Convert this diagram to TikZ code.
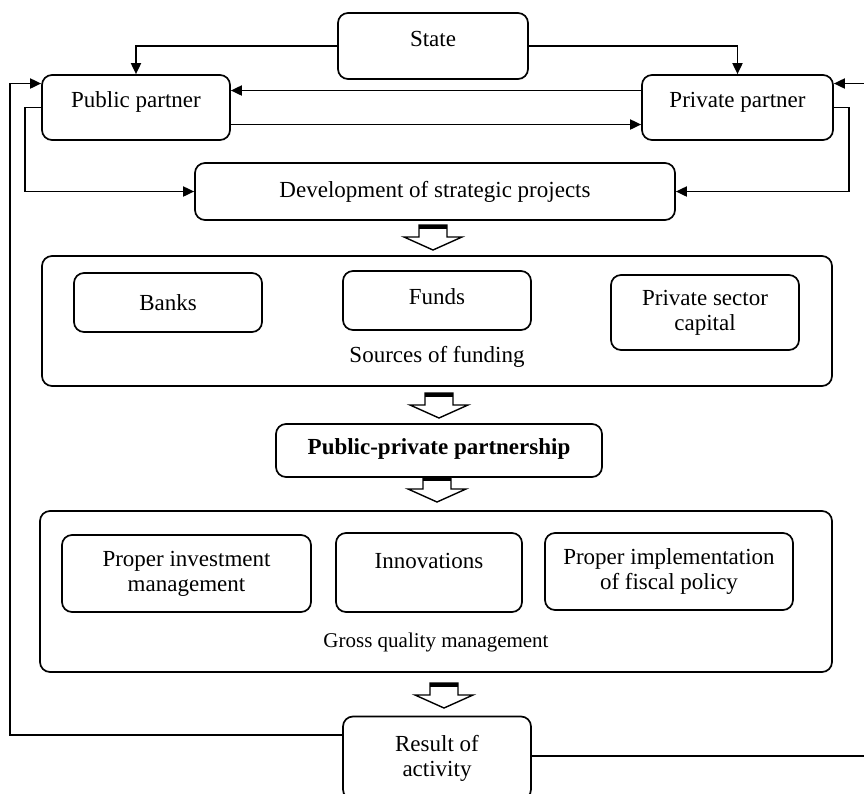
\documentclass[tikz,border=0pt]{standalone}
\usepackage{fontspec}
\setmainfont{Liberation Serif}
\usetikzlibrary{arrows.meta,calc}

\tikzset{
  box/.style={draw, rounded corners=5pt, line width=0.85pt, align=center, inner sep=0pt},
  lift/.style={text height=8pt, text depth=#1},
  arr/.style={line width=0.9pt, -{Triangle[length=5.5pt,width=5pt]}},
}

\begin{document}
\begin{tikzpicture}[x=0.5pt,y=-0.5pt,font=\fontsize{11.5}{12.5}\selectfont]
\useasboundingbox (0,0) rectangle (864,794);

\node[box,lift=7.5pt,minimum width=95pt,minimum height=33pt] (state) at (433,46) {State};
\node[box,lift=8pt,minimum width=94pt,minimum height=32.5pt] (pub) at (136,107.5) {Public partner};
\node[box,lift=8pt,minimum width=95.5pt,minimum height=32.5pt] (priv) at (737.5,107.5) {Private partner};
\node[box,minimum width=240pt,minimum height=28.5pt] (dev) at (435,191.5) {Development of strategic projects};

% sources of funding
\node[box,minimum width=395pt,minimum height=65pt] (src) at (437,321) {};
\node[box,minimum width=94pt,minimum height=29.5pt] (banks) at (168,302.5) {Banks};
\node[box,lift=4pt,minimum width=94pt,minimum height=29.5pt] (funds) at (437,300.5) {Funds};
\node[box,minimum width=94pt,minimum height=37.5pt] (capital) at (705,312.5) {Private sector\\capital};
\node (srccap) at (437,357) {Sources of funding};

\node[box,lift=4pt,minimum width=163pt,minimum height=26.5pt,font=\fontsize{11.5}{12.5}\selectfont\bfseries] (ppp) at (439,450.5) {Public-private partnership};

% gross quality management
\node[box,minimum width=396pt,minimum height=80.5pt] (gqm) at (436,591.5) {};
\node[box,minimum width=124.5pt,minimum height=38.5pt] (invest) at (186.5,573.5) {Proper investment\\management};
\node[box,lift=12pt,minimum width=93pt,minimum height=39.5pt] (innov) at (429,572.5) {Innovations};
\node[box,minimum width=124pt,minimum height=38.5pt] (fiscal) at (669,571.5) {Proper implementation\\of fiscal policy};
\node[font=\fontsize{10.5}{12}\selectfont] (gqmcap) at (436,642) {Gross quality management};

\node[box,minimum width=94pt,minimum height=41.5pt] (res) at (437,758) {Result of\\activity};

% hollow arrows
\foreach \ax/\ay in {433/225,439/393,437/477,444/683}{
  \draw[line width=0.7pt,fill=white] (\ax-14,\ay) -- (\ax+14,\ay) -- (\ax+14,\ay+12) -- (\ax+29,\ay+12)
    -- (\ax,\ay+25) -- (\ax-29,\ay+12) -- (\ax-14,\ay+12) -- cycle;
  \fill (\ax-14,\ay) rectangle (\ax+14,\ay+4);
}

% connectors
\draw[arr] (state.west) -| (pub.north);
\draw[arr] (state.east) -| (priv.north);
\draw[arr] ($(priv.west)+(0,-17)$) -- ($(pub.east)+(0,-17)$);
\draw[arr] ($(pub.east)+(0,17)$) -- ($(priv.west)+(0,17)$);
\draw[arr] (pub.west) -- ++(-16,0) |- (dev.west);
\draw[arr] (priv.east) -- ++(15,0) |- (dev.east);

% feedback
\coordinate (fbl) at (10,83.5);
\coordinate (fbr) at (872,83.5);
\draw[arr] ($(res.west)+(0,-23)$) -| (fbl) -- ($(pub.west)+(0,-24)$);
\draw[arr] ($(res.east)+(0,-2)$) -| (fbr) -- ($(priv.east)+(0,-24)$);
\end{tikzpicture}
\end{document}
